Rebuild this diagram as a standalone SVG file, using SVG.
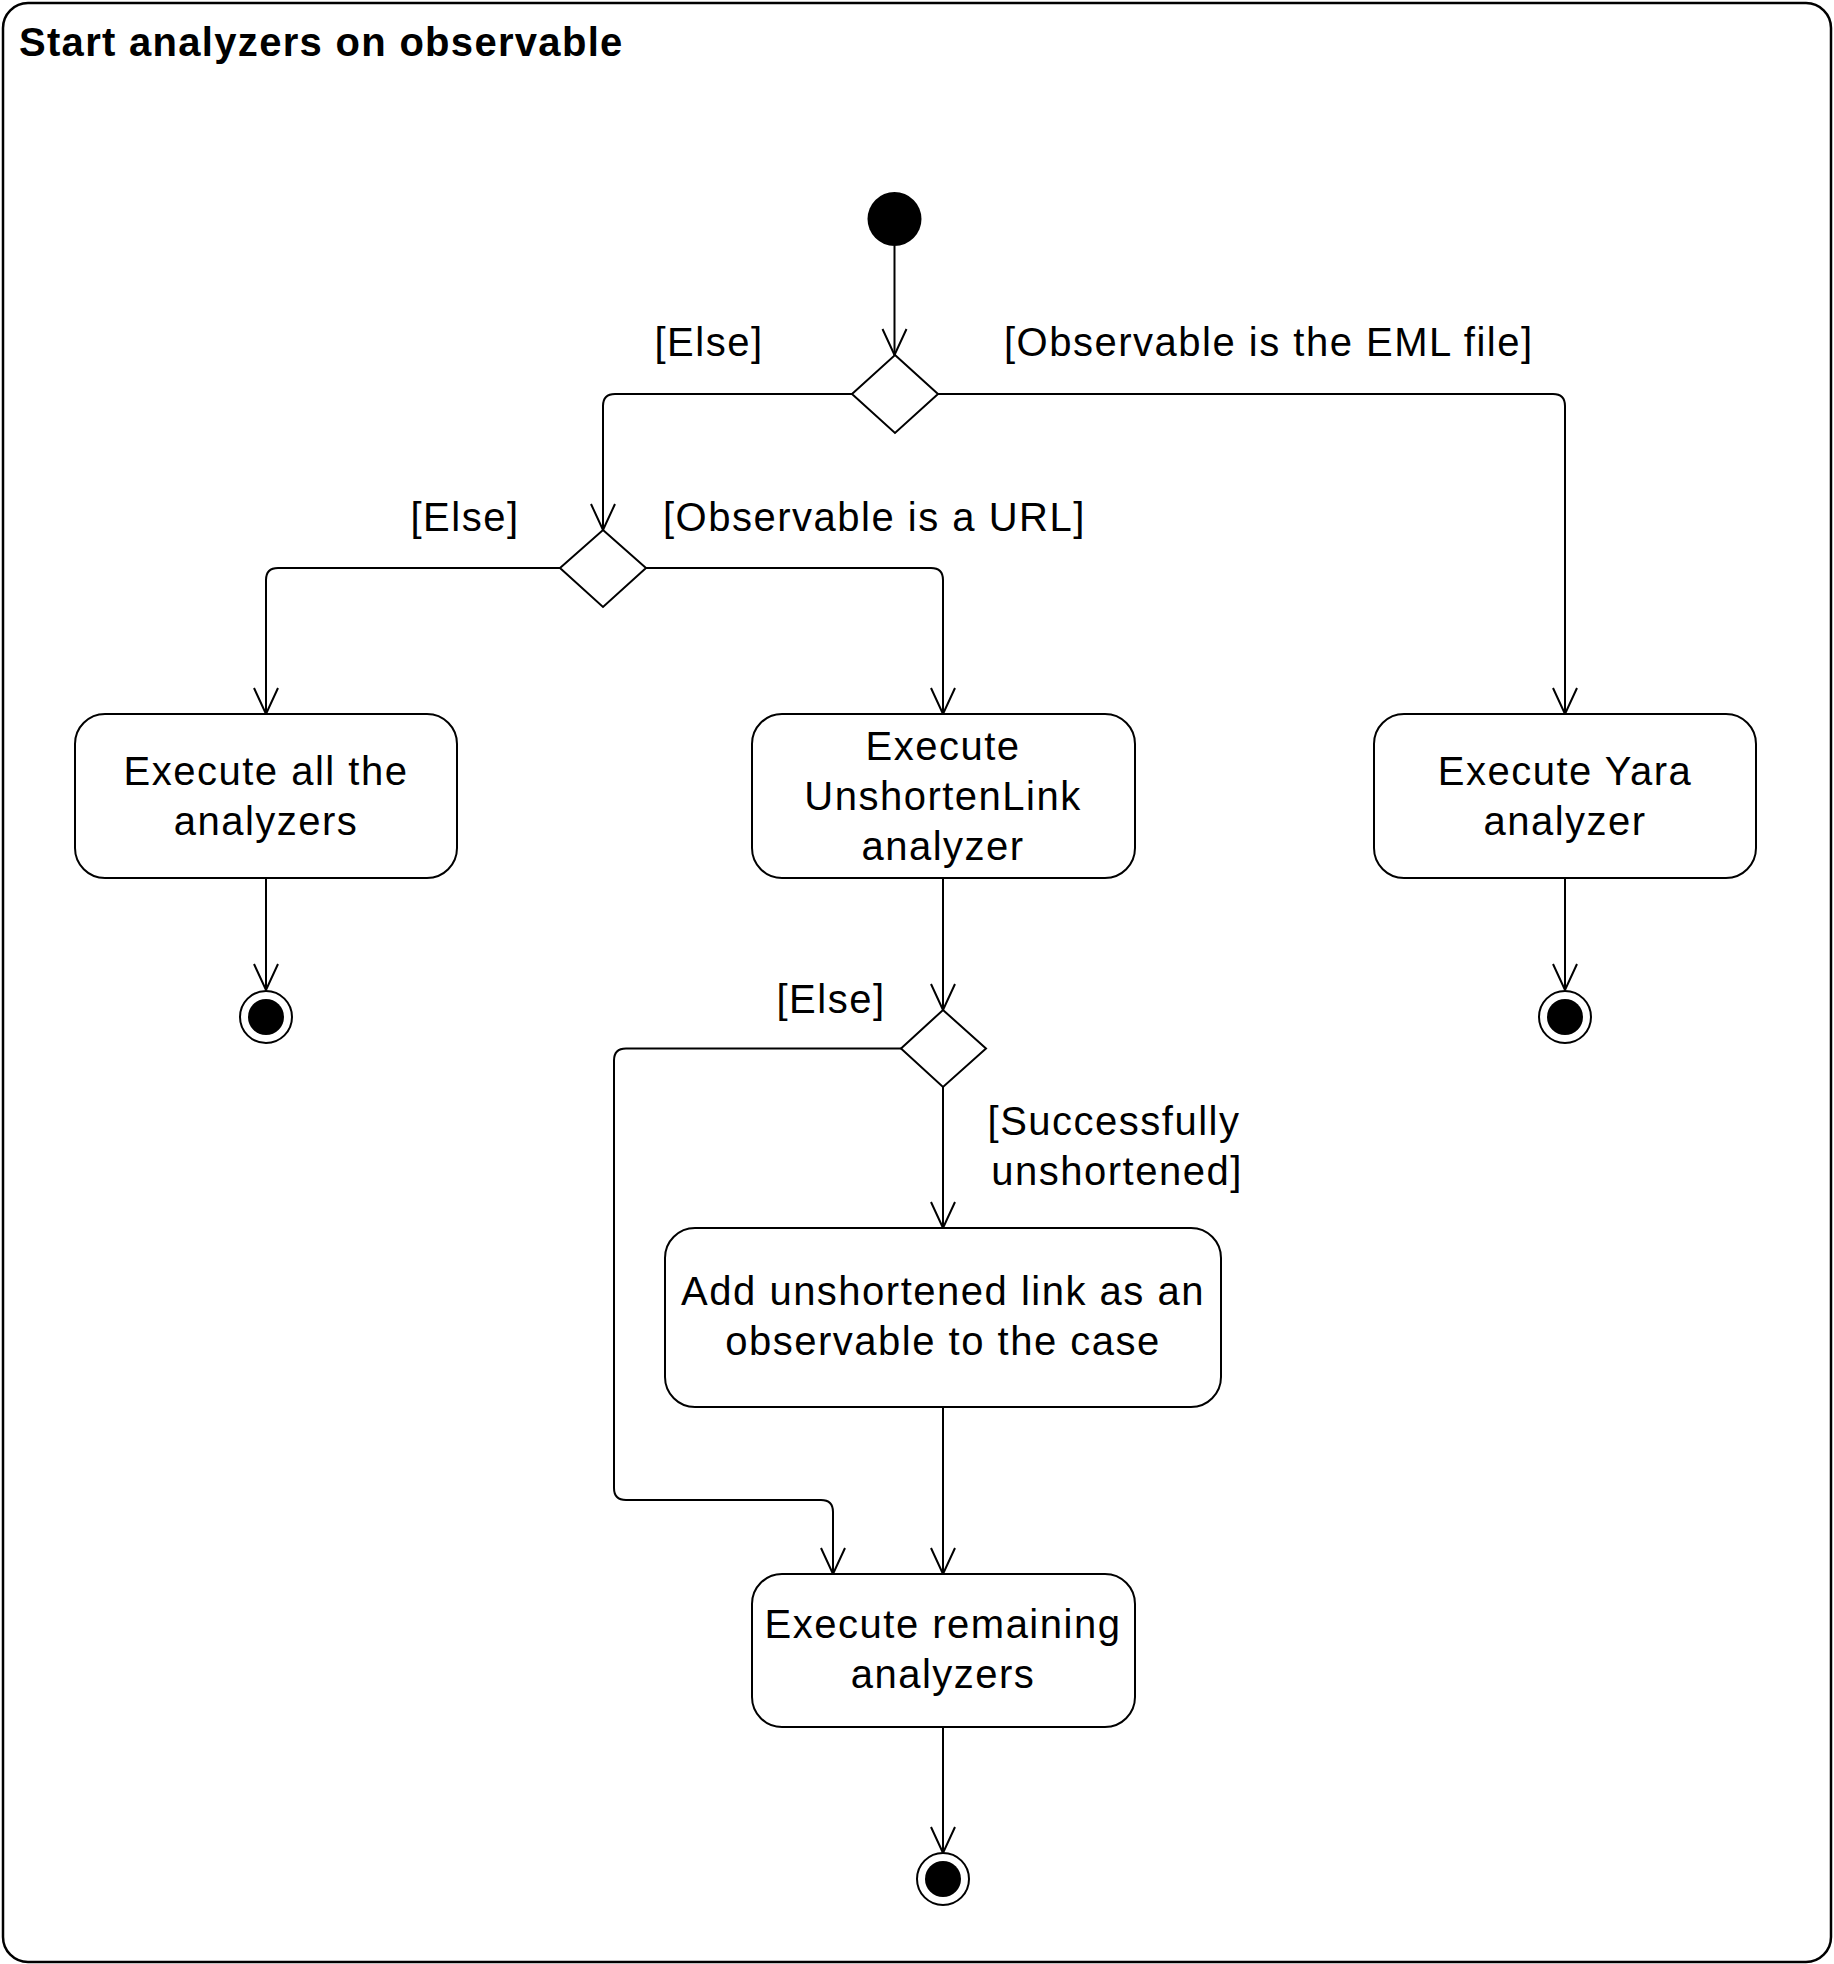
<svg xmlns="http://www.w3.org/2000/svg" width="1834" height="1964" viewBox="0 0 1834 1964">
<style>
.frame{fill:#fff;stroke:#000;stroke-width:2.5}
.box{fill:#fff;stroke:#000;stroke-width:2}
.dia{fill:#fff;stroke:#000;stroke-width:2}
.edge{fill:none;stroke:#000;stroke-width:2}
.t{font-family:"Liberation Sans",Arial,sans-serif;font-size:40px;fill:#000;letter-spacing:1.5px}
.c{text-anchor:middle}
.title{font-family:"Liberation Sans",Arial,sans-serif;font-size:40px;font-weight:bold;fill:#000;letter-spacing:1.3px}
</style>
<defs>
<marker id="arr" viewBox="-30 -15 32 30" refX="0" refY="0" markerWidth="32" markerHeight="30" markerUnits="userSpaceOnUse" orient="auto">
<path d="M-26,-12 L0,0 L-26,12" fill="none" stroke="#000" stroke-width="2"/>
</marker>
</defs>
<rect class="frame" x="3" y="3" width="1828" height="1959" rx="25"/>
<text class="title" x="19" y="56">Start analyzers on observable</text>

<g id="connectors">
<path class="edge" d="M894.5 246 V355" marker-end="url(#arr)"/>
<path class="edge" d="M852 394 H615 Q603 394 603 406 V530" marker-end="url(#arr)"/>
<path class="edge" d="M938 394 H1553 Q1565 394 1565 406 V714" marker-end="url(#arr)"/>
<path class="edge" d="M560 568 H278 Q266 568 266 580 V714" marker-end="url(#arr)"/>
<path class="edge" d="M646 568 H931 Q943 568 943 580 V714" marker-end="url(#arr)"/>
<path class="edge" d="M266 878 V990" marker-end="url(#arr)"/>
<path class="edge" d="M1565 878 V990" marker-end="url(#arr)"/>
<path class="edge" d="M943 878 V1010" marker-end="url(#arr)"/>
<path class="edge" d="M943 1087 V1228" marker-end="url(#arr)"/>
<path class="edge" d="M901 1048.5 H626 Q614 1048.5 614 1060.5 V1488 Q614 1500 626 1500 H821 Q833 1500 833 1512 V1574" marker-end="url(#arr)"/>
<path class="edge" d="M943 1407 V1574" marker-end="url(#arr)"/>
<path class="edge" d="M943 1727 V1853" marker-end="url(#arr)"/>
<text class="t c" x="709" y="356">[Else]</text>
<text class="t" x="1004" y="356">[Observable is the EML file]</text>
<text class="t c" x="465" y="531">[Else]</text>
<text class="t" x="663" y="531">[Observable is a URL]</text>
<text class="t c" x="831" y="1013">[Else]</text>
<text class="t c" x="1114" y="1135">[Successfully</text>
<text class="t c" x="1117" y="1185">unshortened]</text>
</g>

<g id="start"><circle cx="894.5" cy="219" r="27" fill="#000"/></g>

<g id="decision1"><polygon class="dia" points="895,355 938,394 895,433 852,394"/></g>
<g id="decision2"><polygon class="dia" points="603,530 646,568 603,607 560,568"/></g>
<g id="decision3"><polygon class="dia" points="943,1010 986,1048.5 943,1087 901,1048.5"/></g>

<g id="execute-all">
<rect class="box" x="75" y="714" width="382" height="164" rx="30"/>
<text class="t c" x="266" y="785">Execute all the</text>
<text class="t c" x="266" y="835">analyzers</text>
</g>

<g id="execute-unshorten">
<rect class="box" x="752" y="714" width="383" height="164" rx="30"/>
<text class="t c" x="943" y="760">Execute</text>
<text class="t c" x="943" y="810">UnshortenLink</text>
<text class="t c" x="943" y="860">analyzer</text>
</g>

<g id="execute-yara">
<rect class="box" x="1374" y="714" width="382" height="164" rx="30"/>
<text class="t c" x="1565" y="785">Execute Yara</text>
<text class="t c" x="1565" y="835">analyzer</text>
</g>

<g id="add-link">
<rect class="box" x="665" y="1228" width="556" height="179" rx="30"/>
<text class="t c" x="943" y="1305">Add unshortened link as an</text>
<text class="t c" x="943" y="1355">observable to the case</text>
</g>

<g id="execute-remaining">
<rect class="box" x="752" y="1574" width="383" height="153" rx="30"/>
<text class="t c" x="943" y="1638">Execute remaining</text>
<text class="t c" x="943" y="1688">analyzers</text>
</g>

<g id="end1"><circle class="box" cx="266" cy="1017" r="26"/><circle cx="266" cy="1017" r="18" fill="#000"/></g>
<g id="end2"><circle class="box" cx="1565" cy="1017" r="26"/><circle cx="1565" cy="1017" r="18" fill="#000"/></g>
<g id="end3"><circle class="box" cx="943" cy="1879" r="26"/><circle cx="943" cy="1879" r="18" fill="#000"/></g>
</svg>
